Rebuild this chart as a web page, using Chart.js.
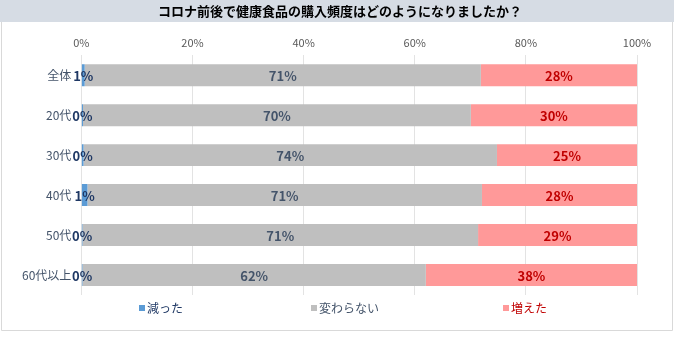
<!DOCTYPE html>
<html>
<head>
<meta charset="utf-8">
<script src="https://cdn.jsdelivr.net/npm/chart.js@4"></script>
<style>
  html, body { margin: 0; padding: 0; background: #fff; }
  #wrap { width: 674px; height: 339px; position: relative; }
</style>
</head>
<body>
<div id="wrap"><canvas id="barChart" width="674" height="339"></canvas></div>
<script>
// --- Dados ---
const titleText = 'コロナ前後で健康食品の購入頻度はどのようになりましたか？';
const categories = ['全体', '20代', '30代', '40代', '50代', '60代以上'];
const seriesNames = ['減った', '変わらない', '増えた'];
const decreased = [0.6, 0.3, 0.4, 1.1, 0.2, 0.2];
const unchanged = [71.3, 69.8, 74.4, 71.0, 71.2, 61.8];
const increased = [28.1, 29.9, 25.2, 27.9, 28.6, 38.0];
const xTicks = [0, 20, 40, 60, 80, 100];

const barColors = ['#5B9BD5', '#BFBFBF', '#FF9999'];
const labelColors = ['#1F3864', '#44546A', '#C00000'];
const legendTextColors = ['#1F3864', '#44546A', '#C00000'];
const jpFont = '"Noto Sans CJK JP", "Noto Sans", sans-serif';

// faixa cinza do título + moldura
const framePlugin = {
    id: 'frame',
    beforeDraw(chart) {
        const c = chart.ctx;
        c.save();
        c.fillStyle = '#D6DCE4';
        c.fillRect(0, 0, chart.width, 22);
        c.fillStyle = '#000';
        c.font = 'bold 13px ' + jpFont;
        c.textAlign = 'center';
        c.textBaseline = 'middle';
        c.fillText(titleText, 340, 11);
        c.strokeStyle = '#D9D9D9';
        c.lineWidth = 1;
        c.beginPath();
        c.moveTo(1.5, 22); c.lineTo(1.5, 330.5); c.lineTo(chart.width - 1.5, 330.5); c.lineTo(chart.width - 1.5, 22);
        c.stroke();
        c.restore();
    }
};

// rótulos de valor sobre as barras
const valueLabels = {
    id: 'valueLabels',
    afterDatasetsDraw(chart) {
        const c = chart.ctx;
        c.save();
        c.font = 'bold 13px ' + jpFont;
        c.textAlign = 'center';
        c.textBaseline = 'middle';
        chart.data.datasets.forEach((ds, i) => {
            chart.getDatasetMeta(i).data.forEach((bar, j) => {
                const x = (bar.x + bar.base) / 2;
                c.fillStyle = labelColors[i];
                c.fillText(Math.round(ds.data[j]) + '%', x, bar.y + 1);
            });
        });
        c.restore();
    }
};

// legenda espalhada como no Excel
const spreadLegend = {
    id: 'spreadLegend',
    afterDraw(chart) {
        const c = chart.ctx;
        const starts = [139, 311, 503];
        const y = 308;
        c.save();
        c.font = '12px ' + jpFont;
        c.textBaseline = 'middle';
        seriesNames.forEach((name, i) => {
            c.fillStyle = barColors[i];
            c.fillRect(starts[i], y - 3, 6, 6);
            c.fillStyle = legendTextColors[i];
            c.fillText(name, starts[i] + 8, y);
        });
        c.restore();
    }
};

const ctx = document.getElementById('barChart').getContext('2d');
new Chart(ctx, {
    type: 'bar',
    data: {
        labels: categories,
        datasets: [
            { label: seriesNames[0], data: decreased, backgroundColor: barColors[0] },
            { label: seriesNames[1], data: unchanged, backgroundColor: barColors[1] },
            { label: seriesNames[2], data: increased, backgroundColor: barColors[2] }
        ]
    },
    options: {
        indexAxis: 'y',
        responsive: false,
        animation: false,
        barPercentage: 0.55,
        categoryPercentage: 1,
        layout: { padding: { left: 20, right: 37, bottom: 44, top: 30 } },
        scales: {
            x: {
                stacked: true, position: 'top', min: 0, max: 100,
                afterBuildTicks: (axis) => { axis.ticks = xTicks.map(v => ({ value: v })); },
                ticks: { color: '#595959', font: { size: 11, family: jpFont }, padding: 6, callback: (v) => v + '%' },
                grid: { color: '#E3E3E3', drawTicks: false },
                border: { display: false }
            },
            y: {
                stacked: true,
                ticks: { color: '#44546A', font: { size: 12, family: jpFont }, padding: 2, autoSkip: false },
                grid: { display: false },
                border: { display: false }
            }
        },
        plugins: {
            legend: { display: false },
            tooltip: { enabled: false },
            title: { display: false }
        }
    },
    plugins: [framePlugin, valueLabels, spreadLegend]
});
</script>
</body>
</html>
